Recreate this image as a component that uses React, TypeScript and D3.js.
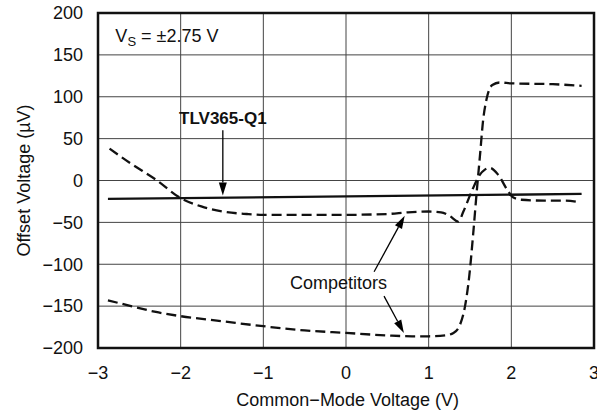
import React from 'react';
import * as d3 from 'd3';

// Common-mode voltage (V) / offset voltage (µV)
const tlvX = [-2.88, 2.85];
const tlvY = [-22, -16];

const compAX = [-2.86, -2.6, -2.3, -2.0, -1.75, -1.5, -1.2, -1.0, -0.5, 0, 0.5, 0.75, 1.0, 1.15, 1.25, 1.36, 1.42, 1.52, 1.62, 1.68, 1.74, 1.84, 1.95, 2.02, 2.12, 2.4, 2.65, 2.83];
const compAY = [38, 20, 1, -21, -31, -37, -40, -41, -41, -41, -40, -38, -37, -38, -42, -49, -37, -13, 7, 13, 15, 7, -11, -20, -23, -24, -24, -26];

const compBX = [-2.88, -2.6, -2.3, -2.0, -1.5, -1.0, -0.5, 0, 0.5, 0.8, 1.0, 1.2, 1.3, 1.38, 1.44, 1.49, 1.54, 1.58, 1.62, 1.66, 1.7, 1.77, 1.86, 2.0, 2.5, 2.85];
const compBY = [-143, -150, -157, -162, -168, -174, -179, -182, -185, -186, -186, -185, -182, -172, -150, -115, -62, -15, 29, 73, 97, 114, 117, 116, 115, 113];

const xTicks = [-3, -2, -1, 0, 1, 2, 3];
const yTicks = [-200, -150, -100, -50, 0, 50, 100, 150, 200];

const W = 597;
const H = 412;
const margin = { top: 13, right: 3, bottom: 64, left: 98 };

const FONT = '"Liberation Sans", Arial, sans-serif';

const App = () => {
    const x = d3.scaleLinear().domain([-3, 3]).range([margin.left, W - margin.right]);
    const y = d3.scaleLinear().domain([-200, 200]).range([H - margin.bottom, margin.top]);

    const line = d3.line<[number, number]>()
        .x(d => x(d[0]))
        .y(d => y(d[1]))
        .curve(d3.curveMonotoneX);

    const zip = (xs: number[], ys: number[]) => xs.map((v, i) => [v, ys[i]] as [number, number]);

    // arrow with filled head, endpoints in data units
    const arrow = (x0: number, y0: number, x1: number, y1: number, key: string) => {
        const px0 = x(x0), py0 = y(y0), px1 = x(x1), py1 = y(y1);
        const ang = Math.atan2(py1 - py0, px1 - px0);
        const len = 13, hw = 4;
        const bx = px1 - len * Math.cos(ang), by = py1 - len * Math.sin(ang);
        const nx = -Math.sin(ang) * hw, ny = Math.cos(ang) * hw;
        return (
            <g key={key}>
                <line x1={px0} y1={py0} x2={bx} y2={by} stroke="#000" strokeWidth={1.3} />
                <path d={`M${px1},${py1}L${bx + nx},${by + ny}L${bx - nx},${by - ny}Z`} fill="#000" />
            </g>
        );
    };

    return (
        <svg width={W} height={H} style={{ position: 'absolute', left: 0, top: 0, background: '#fff' }} fontFamily={FONT}>
            {/* grid */}
            {xTicks.map(t => (
                <line key={'gx' + t} x1={x(t)} x2={x(t)} y1={y(-200)} y2={y(200)} stroke="#444" strokeWidth={1} />
            ))}
            {yTicks.map(t => (
                <line key={'gy' + t} x1={x(-3)} x2={x(3)} y1={y(t)} y2={y(t)} stroke="#444" strokeWidth={1} />
            ))}

            {/* series */}
            <path d={line(zip(compBX, compBY)) || ''} fill="none" stroke="#111" strokeWidth={2.3} strokeDasharray="10,5" />
            <path d={line(zip(compAX, compAY)) || ''} fill="none" stroke="#111" strokeWidth={2.3} strokeDasharray="10,5" />
            <path d={line(zip(tlvX, tlvY)) || ''} fill="none" stroke="#111" strokeWidth={2.4} />

            {/* frame */}
            <rect x={x(-3)} y={y(200)} width={x(3) - x(-3)} height={y(-200) - y(200)} fill="none" stroke="#111" strokeWidth={2.5} />

            {/* tick labels */}
            {yTicks.map(t => (
                <text key={'ty' + t} x={83} y={y(t)} dy="0.35em" textAnchor="end" fontSize={18} fill="#111">
                    {t < 0 ? '\u2212' + Math.abs(t) : t}
                </text>
            ))}
            {xTicks.map(t => (
                <text key={'tx' + t} x={x(t)} y={379} textAnchor="middle" fontSize={18} fill="#111">
                    {t < 0 ? '\u2212' + Math.abs(t) : t}
                </text>
            ))}

            {/* axis titles */}
            <text x={x(0.02)} y={406} textAnchor="middle" fontSize={18} fill="#111">Common{'\u2212'}Mode Voltage (V)</text>
            <text transform={`translate(30,${(y(-200) + y(200)) / 2}) rotate(-90)`} textAnchor="middle" fontSize={18} fill="#111">
                Offset Voltage (µV)
            </text>

            {/* annotations */}
            <text x={x(-2.79)} y={y(165)} fontSize={18} fill="#111">
                V<tspan fontSize={13} dy="4">S</tspan><tspan dy="-4"> = ±2.75 V</tspan>
            </text>
            <text x={x(-1.49)} y={y(68)} textAnchor="middle" fontSize={17} fontWeight="bold" fill="#111">TLV365-Q1</text>
            {arrow(-1.49, 60, -1.49, -18, 'a0')}

            <text x={x(-0.09)} y={y(-129)} textAnchor="middle" fontSize={18} fill="#111">Competitors</text>
            {arrow(0.34, -109, 0.71, -42, 'a1')}
            {arrow(0.46, -138, 0.7, -182, 'a2')}
        </svg>
    );
};

export default App;
